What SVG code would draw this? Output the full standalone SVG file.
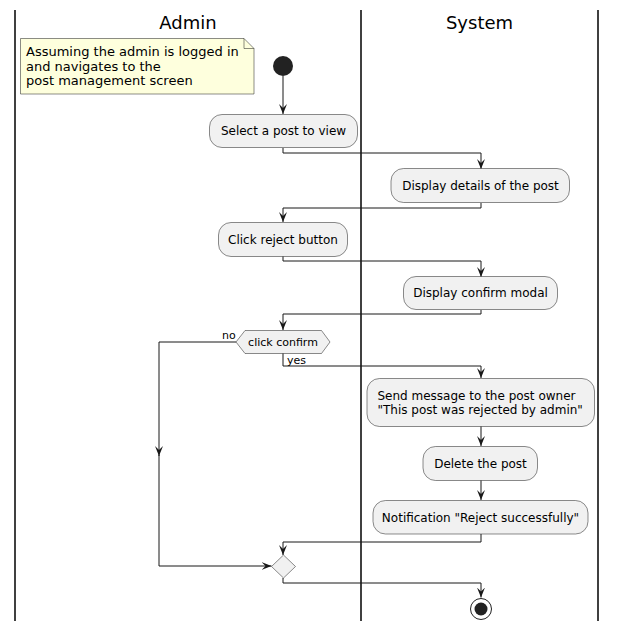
<svg xmlns="http://www.w3.org/2000/svg" width="617" height="631" viewBox="0 0 617 631">
<defs>
<style>
text{font-family:"DejaVu Sans","Liberation Sans",sans-serif;fill:#000}
.lane{stroke:#000;stroke-width:1.5}
.title{font-size:18px;text-anchor:middle}
.act rect{fill:#F1F1F1;stroke:#181818;stroke-width:0.5}
.act text{font-size:12px;text-anchor:middle}
.dia{fill:#F1F1F1;stroke:#181818;stroke-width:0.5}
.edge{fill:none;stroke:#181818;stroke-width:1;marker-end:url(#ah)}
.plain{fill:none;stroke:#181818;stroke-width:1}
.lbl{font-size:11px}
</style>
<marker id="ah" markerUnits="userSpaceOnUse" markerWidth="11" markerHeight="9" refX="10" refY="4" orient="auto" viewBox="0 0 11 9">
<path d="M0,0 L10,4 L0,8 L4,4 Z" fill="#181818"/>
</marker>
</defs>
<rect width="617" height="631" fill="#fff"/>
<g id="lanes">
<line class="lane" x1="15" y1="10" x2="15" y2="621"/>
<line class="lane" x1="361" y1="10" x2="361" y2="621"/>
<line class="lane" x1="598" y1="10" x2="598" y2="621"/>
<text class="title" x="188" y="29">Admin</text>
<text class="title" x="479.5" y="29">System</text>
</g>
<g id="connectors">
<path class="edge" d="M283,76 V114"/>
<path class="edge" d="M283,148 V153 H481 V169"/>
<path class="edge" d="M481,203 V208 H283 V222"/>
<path class="edge" d="M283,256 V261 H481 V277"/>
<path class="edge" d="M481,310 V314 H283 V330"/>
<path class="edge" d="M283,353 V366 H481 V378"/>
<path class="edge" d="M236,342 H159 V456"/>
<path class="edge" d="M159,455 V566 H271.5"/>
<path class="edge" d="M481,426 V446"/>
<path class="edge" d="M481,480 V500"/>
<path class="edge" d="M481,534 V542 H283 V555"/>
<path class="edge" d="M283,578 V583 H481 V597.5"/>
<text class="lbl" x="222" y="339">no</text>
<text class="lbl" x="287" y="364">yes</text>
</g>
<g id="note">
<path d="M20.5,38.5 H244 L254,48.5 V94 H20.5 Z" fill="#FEFFDD" stroke="#181818" stroke-width="0.5"/>
<path d="M244,38.5 V48.5 H254" fill="none" stroke="#181818" stroke-width="0.5"/>
<text x="26" y="56" font-size="13">Assuming the admin is logged in</text>
<text x="26" y="70.5" font-size="13">and navigates to the</text>
<text x="26" y="85" font-size="13">post management screen</text>
</g>
<g id="start"><circle cx="283" cy="66" r="10" fill="#222"/></g>
<g id="select" class="act"><rect x="209.5" y="114.5" width="148" height="33" rx="12.5"/><text x="283.5" y="135">Select a post to view</text></g>
<g id="details" class="act"><rect x="391" y="168.5" width="178.5" height="34" rx="12.5"/><text x="480.5" y="189.5">Display details of the post</text></g>
<g id="reject" class="act"><rect x="218.5" y="222.5" width="129" height="34" rx="12.5"/><text x="283" y="243.5">Click reject button</text></g>
<g id="confirm" class="act"><rect x="403.5" y="276.5" width="154" height="33" rx="12.5"/><text x="480.5" y="297">Display confirm modal</text></g>
<g id="decision">
<polygon class="dia" points="236,342 245,330.5 321.5,330.5 330,342 321.5,353.5 245,353.5"/>
<text x="283" y="346" font-size="11" text-anchor="middle">click confirm</text>
</g>
<g id="send" class="act"><rect x="367" y="378.5" width="227.5" height="48" rx="12.5"/>
<text x="377.5" y="399.5" style="text-anchor:start">Send message to the post owner</text>
<text x="377.5" y="414" style="text-anchor:start">"This post was rejected by admin"</text></g>
<g id="delete" class="act"><rect x="423" y="446.5" width="114.5" height="34" rx="12.5"/><text x="480.5" y="467.5">Delete the post</text></g>
<g id="notify" class="act"><rect x="373" y="500.5" width="215" height="33.5" rx="12.5"/><text x="480.5" y="521.5">Notification "Reject successfully"</text></g>
<g id="merge"><polygon class="dia" points="283.5,555 295.5,566.5 283.5,578 271.5,566.5"/></g>
<g id="end"><circle cx="481" cy="609" r="10.5" fill="#fff" stroke="#222" stroke-width="1"/><circle cx="481" cy="609" r="6.5" fill="#222"/></g>
</svg>
